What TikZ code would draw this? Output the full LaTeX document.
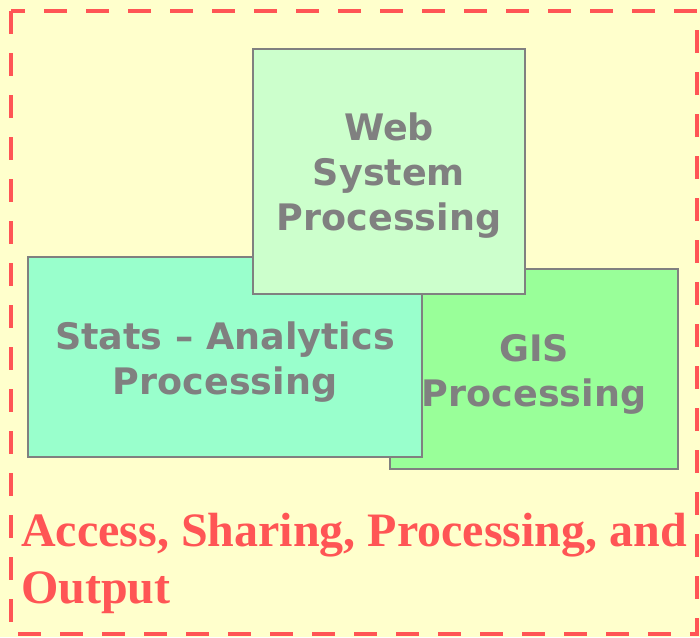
\documentclass[tikz,border=0pt]{standalone}
\usepackage{fontspec}
\newfontfamily\boxfont{DejaVu Sans}
\newfontfamily\capfont{Liberation Serif}
\definecolor{paper}{HTML}{FFFFCC}
\definecolor{capred}{HTML}{FF5555}
\definecolor{boxgray}{HTML}{808080}
\definecolor{webfill}{HTML}{CCFFCC}
\definecolor{statsfill}{HTML}{99FFCC}
\definecolor{gisfill}{HTML}{99FF99}
\tikzset{
  procbox/.style={draw=boxgray, line width=1.5pt, inner sep=0pt},
  boxtext/.style={inner sep=0pt, align=center, text=boxgray,
    font=\boxfont\bfseries\fontsize{36.5}{45}\selectfont}
}
\begin{document}
\begin{tikzpicture}[x=1pt,y=-1pt]
        % Background and the dashed frame
        \fill[paper] (0,0) rectangle (700,637);
        \useasboundingbox (0,0) rectangle (700,637);
        \draw[capred, line width=4pt, dash pattern=on 23pt off 19pt] (11,11) rectangle (697,634);

        % Draw the three processing boxes, back to front
        \node[procbox, fill=gisfill, minimum width=288pt, minimum height=200pt] (gis) at (534,369) {};
        \node[boxtext] (gistext) at ([yshift=-5pt]gis.center) {GIS\\Processing};
        \node[procbox, fill=statsfill, minimum width=394pt, minimum height=200pt] (stats) at (225,357) {};
        \node[boxtext] (statstext) at ([yshift=-5pt]stats.center) {Stats \textendash{} Analytics\\Processing};
        \node[procbox, fill=webfill, minimum width=272pt, minimum height=245pt] (web) at (389,171.5) {};
        \node[boxtext] (webtext) at ([yshift=-4pt]web.center) {Web\\System\\Processing};

        % Caption at the bottom
        \node[anchor=base west, align=left, inner sep=0pt, text=capred,
          font=\capfont\bfseries\fontsize{48}{57}\selectfont] (caption) at (21,603) {Access, Sharing, Processing, and\\Output};
\end{tikzpicture}
\end{document}
